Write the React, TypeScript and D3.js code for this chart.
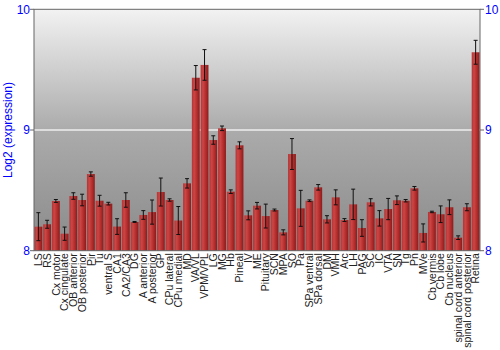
import React from "react";
import * as d3 from "d3";

const categories = [
  "LS", "RS", "Cx motor", "Cx cingulate", "OB anterior", "OB posterior", "Pir", "Tu",
  "ventral S", "CA1", "CA2/CA3", "DG", "A anterior", "A posterior", "GP", "CPu lateral",
  "CPu medial", "MD", "VA/VL", "VPM/VPL", "LG", "MG", "Hb", "Pineal", "IV", "ME",
  "Pituitary", "SCN", "MPA", "SO", "Pa", "SPa ventral", "SPa dorsal", "DM", "VMH", "Arc",
  "LH", "PAG", "SC", "IC", "VTA", "SN", "Tg", "Pn", "MVe", "Cb vermis", "Cb lobe",
  "Cb nucleus", "spinal cord anterior", "spinal cord posterior", "Retina",
];

const values = [
  8.199, 8.219, 8.412, 8.141, 8.453, 8.42, 8.635, 8.414,
  8.39, 8.2, 8.42, 8.238, 8.296, 8.32, 8.486, 8.42,
  8.25, 8.558, 9.433, 9.539, 8.917, 9.014, 8.489, 8.873, 8.293, 8.373,
  8.287, 8.337, 8.152, 8.801, 8.351, 8.414, 8.525, 8.26, 8.442, 8.254,
  8.384, 8.188, 8.401, 8.268, 8.345, 8.418, 8.414, 8.517, 8.147, 8.321, 8.302,
  8.36, 8.108, 8.36, 9.644,
];

const errors = [
  0.116, 0.033, 0.012, 0.055, 0.027, 0.048, 0.018, 0.045,
  0.011, 0.065, 0.06, 0.004, 0.036, 0.1, 0.116, 0.01,
  0.116, 0.039, 0.101, 0.127, 0.035, 0.019, 0.015, 0.029, 0.037, 0.027,
  0.099, 0.008, 0.021, 0.128, 0.149, 0.007, 0.023, 0.03, 0.062, 0.012,
  0.126, 0.069, 0.03, 0.064, 0.088, 0.036, 0.01, 0.015, 0.075, 0.006, 0.069,
  0.061, 0.015, 0.029, 0.099,
];

const yTicks = [8, 9, 10];
const yTitle = "Log2 (expression)";

const W = 500;
const H = 350;
const left = 34;
const right = 480;
const top = 9.3;
const bottom = 250.7;

export default function App() {
  const x = d3
    .scaleBand<string>()
    .domain(categories)
    .range([left, right])
    .paddingInner(0.1)
    .paddingOuter(0.05);
  const y = d3.scaleLinear().domain([8, 10]).range([bottom, top]);
  const bw = x.bandwidth();
  const font = "'Liberation Sans', Arial, sans-serif";

  return (
    <svg
      width={W}
      height={H}
      style={{ position: "absolute", left: 0, top: 0, background: "#fff" }}
    >
      <defs>
        <linearGradient id="bg" x1="0" y1="0" x2="0" y2="1">
          <stop offset="0" stopColor="#f2f2f2" />
          <stop offset="0.5" stopColor="#ababab" />
          <stop offset="1" stopColor="#8a8a8a" />
        </linearGradient>
        <linearGradient id="bar" x1="0" y1="0" x2="1" y2="0">
          <stop offset="0" stopColor="#b33434" />
          <stop offset="0.3" stopColor="#cc4646" />
          <stop offset="0.7" stopColor="#b02a2a" />
          <stop offset="1" stopColor="#8a1c1c" />
        </linearGradient>
      </defs>
      <rect x={left} y={top} width={right - left} height={bottom - top} fill="url(#bg)" />
      <line
        x1={left}
        x2={right}
        y1={y(9)}
        y2={y(9)}
        stroke="#eeeeee"
        strokeWidth={1.5}
      />
      {categories.map((c, i) => {
        const x0 = x(c)!;
        const v = values[i];
        const e = errors[i];
        const cx = x0 + bw / 2;
        return (
          <g key={c}>
            <rect x={x0} y={y(v)} width={bw} height={y(8) - y(v)} fill="url(#bar)" />
            <line x1={cx} x2={cx} y1={y(v + e)} y2={y(v - e)} stroke="#111" strokeWidth={1} />
            <line x1={cx - 2} x2={cx + 2} y1={y(v + e)} y2={y(v + e)} stroke="#111" strokeWidth={1} />
            <line x1={cx - 2} x2={cx + 2} y1={y(v - e)} y2={y(v - e)} stroke="#111" strokeWidth={1} />
          </g>
        );
      })}
      <rect
        x={left}
        y={top}
        width={right - left}
        height={bottom - top}
        fill="none"
        stroke="#666"
        strokeWidth={1}
      />
      {yTicks.map((t) => (
        <g key={t}>
          <line x1={left - 4} x2={left} y1={y(t)} y2={y(t)} stroke="#666" />
          <line x1={right} x2={right + 4} y1={y(t)} y2={y(t)} stroke="#666" />
          <text
            x={left - 4}
            y={y(t)}
            dy="0.35em"
            textAnchor="end"
            fontFamily={font}
            fontSize={12}
            fill="#0000ff"
          >
            {t}
          </text>
          <text
            x={right + 5}
            y={y(t)}
            dy="0.35em"
            textAnchor="start"
            fontFamily={font}
            fontSize={12}
            fill="#0000ff"
          >
            {t}
          </text>
        </g>
      ))}
      <text
        transform={`translate(12,${(top + bottom) / 2}) rotate(-90)`}
        textAnchor="middle"
        fontFamily={font}
        fontSize={12}
        fill="#0000ff"
      >
        {yTitle}
      </text>
      {categories.map((c) => (
        <text
          key={c}
          transform={`translate(${x(c)! + bw / 2},${bottom + 2.5}) rotate(-90)`}
          textAnchor="end"
          dy="0.35em"
          fontFamily={font}
          fontSize={10.5}
          fill="#222"
        >
          {c}
        </text>
      ))}
    </svg>
  );
}
